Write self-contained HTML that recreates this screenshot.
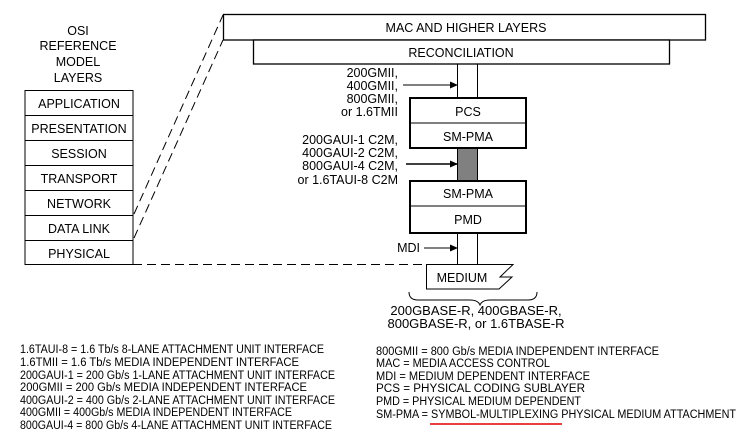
<!DOCTYPE html>
<html><head><meta charset="utf-8"><style>
html,body{margin:0;padding:0;background:#fff}
svg{display:block}
text{font-family:"Liberation Sans",sans-serif;fill:#000}
</style></head><body>
<svg width="743" height="439" viewBox="0 0 743 439" xmlns="http://www.w3.org/2000/svg">
<defs><marker id="a" markerWidth="8" markerHeight="8" refX="7" refY="4" orient="auto" markerUnits="userSpaceOnUse"><path d="M0,0.5 L8,4 L0,7.5 Z" fill="#000"/></marker></defs>
<g font-size="12.5" text-anchor="middle">
<text x="78" y="35">OSI</text>
<text x="78" y="50">REFERENCE</text>
<text x="78" y="66">MODEL</text>
<text x="78" y="82">LAYERS</text>
</g>
<g fill="none" stroke="#000" stroke-width="1">
<rect x="25" y="90.5" width="108" height="174"/>
<line x1="25" y1="115.5" x2="133" y2="115.5"/>
<line x1="25" y1="140.5" x2="133" y2="140.5"/>
<line x1="25" y1="165.5" x2="133" y2="165.5"/>
<line x1="25" y1="190.5" x2="133" y2="190.5"/>
<line x1="25" y1="215.5" x2="133" y2="215.5"/>
<line x1="25" y1="240.5" x2="133" y2="240.5"/>
</g>
<g font-size="12.5" text-anchor="middle">
<text x="79" y="108">APPLICATION</text>
<text x="79" y="133">PRESENTATION</text>
<text x="79" y="158">SESSION</text>
<text x="79" y="183">TRANSPORT</text>
<text x="79" y="208">NETWORK</text>
<text x="79" y="233">DATA LINK</text>
<text x="79" y="258">PHYSICAL</text>
</g>
<g stroke="#000" stroke-width="1" stroke-dasharray="9,5" fill="none">
<line x1="134" y1="214" x2="223" y2="15"/>
<line x1="134" y1="238" x2="223" y2="40"/>
<line x1="133" y1="264.5" x2="426" y2="264.5"/>
</g>
<rect x="223.5" y="14.5" width="482" height="25.5" fill="#fff" stroke="#000" stroke-width="1.3"/>
<text x="466" y="32" font-size="12.5" text-anchor="middle">MAC AND HIGHER LAYERS</text>
<rect x="253.5" y="40" width="416" height="24" fill="#fff" stroke="#000" stroke-width="1.3"/>
<text x="461" y="57" font-size="12.5" text-anchor="middle">RECONCILIATION</text>
<g stroke="#000" stroke-width="1">
<line x1="457.5" y1="64" x2="457.5" y2="98"/><line x1="477.5" y1="64" x2="477.5" y2="98"/>
<line x1="457.5" y1="234" x2="457.5" y2="264"/><line x1="477.5" y1="234" x2="477.5" y2="264"/>
</g>
<rect x="457.5" y="148" width="20" height="33" fill="#808080" stroke="#000" stroke-width="1"/>
<g fill="none" stroke="#000" stroke-width="2">
<rect x="410" y="98" width="116" height="50"/>
<rect x="410" y="181" width="116" height="52"/>
</g>
<line x1="410" y1="123" x2="526" y2="123" stroke="#000"/>
<line x1="410" y1="206" x2="526" y2="206" stroke="#000"/>
<g font-size="12.5" text-anchor="middle">
<text x="468" y="116">PCS</text>
<text x="468" y="141">SM-PMA</text>
<text x="468" y="198">SM-PMA</text>
<text x="468" y="224">PMD</text>
</g>
<g font-size="12.5" text-anchor="end">
<text x="398" y="77">200GMII,</text>
<text x="398" y="90">400GMII,</text>
<text x="398" y="103">800GMII,</text>
<text x="398" y="116">or 1.6TMII</text>
<text x="398" y="144">200GAUI-1 C2M,</text>
<text x="398" y="157">400GAUI-2 C2M,</text>
<text x="398" y="170">800GAUI-4 C2M,</text>
<text x="398" y="184">or 1.6TAUI-8 C2M</text>
<text x="420" y="252">MDI</text>
</g>
<g stroke="#000" stroke-width="1" marker-end="url(#a)">
<line x1="403" y1="85" x2="457" y2="85"/>
<line x1="406" y1="164" x2="457" y2="164" stroke-width="1.5"/>
<line x1="424" y1="248" x2="457" y2="248"/>
</g>
<path d="M426.5,264.5 H513 L500,277 L512,277 L499,289 H426.5 Z" fill="#fff" stroke="#000" stroke-width="1"/>
<text x="462" y="282" font-size="12.5" text-anchor="middle">MEDIUM</text>
<path d="M409,292 Q409,300 418,300 H470 Q478,300 480,305 Q482,300 490,300 H528 Q537,300 537,292" fill="none" stroke="#000" stroke-width="1"/>
<g font-size="13" text-anchor="middle">
<text x="476" y="315">200GBASE-R, 400GBASE-R,</text>
<text x="476" y="328">800GBASE-R, or 1.6TBASE-R</text>
</g>
<g font-size="11.5">
<text x="20" y="353" textLength="304" lengthAdjust="spacingAndGlyphs">1.6TAUI-8 = 1.6 Tb/s 8-LANE ATTACHMENT UNIT INTERFACE</text>
<text x="20" y="366" textLength="279" lengthAdjust="spacingAndGlyphs">1.6TMII = 1.6 Tb/s MEDIA INDEPENDENT INTERFACE</text>
<text x="20" y="379" textLength="315" lengthAdjust="spacingAndGlyphs">200GAUI-1 = 200 Gb/s 1-LANE ATTACHMENT UNIT INTERFACE</text>
<text x="20" y="391" textLength="287" lengthAdjust="spacingAndGlyphs">200GMII = 200 Gb/s MEDIA INDEPENDENT INTERFACE</text>
<text x="20" y="404" textLength="315" lengthAdjust="spacingAndGlyphs">400GAUI-2 = 400 Gb/s 2-LANE ATTACHMENT UNIT INTERFACE</text>
<text x="20" y="416" textLength="272" lengthAdjust="spacingAndGlyphs">400GMII = 400Gb/s MEDIA INDEPENDENT INTERFACE</text>
<text x="20" y="429" textLength="312" lengthAdjust="spacingAndGlyphs">800GAUI-4 = 800 Gb/s 4-LANE ATTACHMENT UNIT INTERFACE</text>
<text x="376" y="355" textLength="283" lengthAdjust="spacingAndGlyphs">800GMII = 800 Gb/s MEDIA INDEPENDENT INTERFACE</text>
<text x="376" y="367" textLength="174" lengthAdjust="spacingAndGlyphs">MAC = MEDIA ACCESS CONTROL</text>
<text x="376" y="380" textLength="214" lengthAdjust="spacingAndGlyphs">MDI = MEDIUM DEPENDENT INTERFACE</text>
<text x="376" y="392" textLength="209" lengthAdjust="spacingAndGlyphs">PCS = PHYSICAL CODING SUBLAYER</text>
<text x="376" y="405" textLength="205" lengthAdjust="spacingAndGlyphs">PMD = PHYSICAL MEDIUM DEPENDENT</text>
<text x="376" y="418" textLength="360" lengthAdjust="spacingAndGlyphs">SM-PMA = SYMBOL-MULTIPLEXING PHYSICAL MEDIUM ATTACHMENT</text>
</g>
<line x1="430" y1="424" x2="562" y2="424" stroke="#e00000" stroke-width="1.5"/>
</svg>
</body></html>
